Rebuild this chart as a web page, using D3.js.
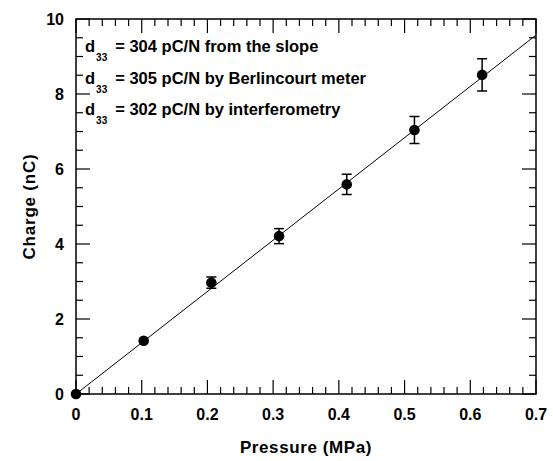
<!DOCTYPE html>
<html>
<head>
<meta charset="utf-8">
<script src="https://cdn.jsdelivr.net/npm/d3@7"></script>
<style>
  body { margin: 0; background: #fff; }
  text { font-family: "Liberation Sans", Arial, sans-serif; font-weight: bold; fill: #000; }
</style>
</head>
<body>
<script>
// measured points
let pressure = [0, 0.103, 0.206, 0.309, 0.412, 0.515, 0.618];
let charge = [0, 1.42, 2.97, 4.21, 5.59, 7.04, 8.51];
let chargeErr = [0, 0.05, 0.15, 0.2, 0.27, 0.36, 0.43];

// linear fit line end points
let fitX = [0, 0.7];
let fitY = [0, 9.57];

let xTicks = [0, 0.1, 0.2, 0.3, 0.4, 0.5, 0.6, 0.7];
let yTicks = [0, 2, 4, 6, 8, 10];

let notes = [
    "304 pC/N from the slope",
    "305 pC/N by Berlincourt meter",
    "302 pC/N by interferometry"
];

let width = 553, height = 461;
let margin = {left: 76, right: 17, top: 19, bottom: 67};

let svg = d3.select("body").append("svg")
    .attr("width", width)
    .attr("height", height);

let x = d3.scaleLinear().domain([0, 0.7]).range([margin.left, width - margin.right]);
let y = d3.scaleLinear().domain([0, 10]).range([height - margin.bottom, margin.top]);

let x0 = x.range()[0], x1 = x.range()[1];
let y0 = y.range()[0], y1 = y.range()[1];

// ticks on all four sides, pointing inward
let xMinor = d3.range(0, 0.7001, 0.02);
let yMinor = d3.range(0, 10.001, 0.5);
let isMajorX = v => Math.abs(v * 10 - Math.round(v * 10)) < 1e-6;
let isMajorY = v => Math.abs(v / 2 - Math.round(v / 2)) < 1e-6;

let tickG = svg.append("g").attr("stroke", "#000").attr("stroke-width", 1.2);

tickG.selectAll(".xb")
    .data(xMinor)
    .join("line")
    .attr("x1", d => x(d)).attr("x2", d => x(d))
    .attr("y1", y0).attr("y2", d => y0 - (isMajorX(d) ? 14 : 7));

tickG.selectAll(".xt")
    .data(xMinor)
    .join("line")
    .attr("x1", d => x(d)).attr("x2", d => x(d))
    .attr("y1", y1).attr("y2", d => y1 + (isMajorX(d) ? 14 : 7));

tickG.selectAll(".yl")
    .data(yMinor)
    .join("line")
    .attr("y1", d => y(d)).attr("y2", d => y(d))
    .attr("x1", x0).attr("x2", d => x0 + (isMajorY(d) ? 14 : 7));

tickG.selectAll(".yr")
    .data(yMinor)
    .join("line")
    .attr("y1", d => y(d)).attr("y2", d => y(d))
    .attr("x1", x1).attr("x2", d => x1 - (isMajorY(d) ? 14 : 7));

svg.append("rect")
    .attr("x", x0).attr("y", y1)
    .attr("width", x1 - x0).attr("height", y0 - y1)
    .attr("fill", "none")
    .attr("stroke", "#000")
    .attr("stroke-width", 1.5);

// tick labels
svg.selectAll(".xl")
    .data(xTicks)
    .join("text")
    .attr("x", d => x(d))
    .attr("y", y0 + 26)
    .attr("text-anchor", "middle")
    .style("font-size", "16px")
    .text(d => d === 0 ? "0" : d3.format(".1f")(d));

svg.selectAll(".ylab")
    .data(yTicks)
    .join("text")
    .attr("x", x0 - 12)
    .attr("y", d => y(d) + 6)
    .attr("text-anchor", "end")
    .style("font-size", "16px")
    .text(d => d);

// axis titles
svg.append("text")
    .attr("x", (x0 + x1) / 2)
    .attr("y", 453)
    .attr("text-anchor", "middle")
    .style("font-size", "17px")
    .style("letter-spacing", "0.6px")
    .text("Pressure (MPa)");

svg.append("text")
    .attr("transform", "translate(35," + (y0 + y1) / 2 + ") rotate(-90)")
    .attr("text-anchor", "middle")
    .style("font-size", "17px")
    .style("letter-spacing", "0.8px")
    .text("Charge (nC)");

// fit line
svg.append("line")
    .attr("x1", x(fitX[0])).attr("y1", y(fitY[0]))
    .attr("x2", x(fitX[1])).attr("y2", y(fitY[1]))
    .attr("stroke", "#000")
    .attr("stroke-width", 1);

let pts = pressure.map((p, i) => ({p: p, c: charge[i], e: chargeErr[i]}));

// error bars
let eb = svg.append("g").attr("stroke", "#000").attr("stroke-width", 1.5);
pts.filter(d => d.e > 0.1).forEach(d => {
    eb.append("line")
        .attr("x1", x(d.p)).attr("x2", x(d.p))
        .attr("y1", y(d.c - d.e)).attr("y2", y(d.c + d.e));
    [d.c - d.e, d.c + d.e].forEach(v => {
        eb.append("line")
            .attr("x1", x(d.p) - 5).attr("x2", x(d.p) + 5)
            .attr("y1", y(v)).attr("y2", y(v));
    });
});

svg.selectAll(".dot")
    .data(pts)
    .join("circle")
    .attr("cx", d => x(d.p))
    .attr("cy", d => y(d.c))
    .attr("r", 5.3)
    .attr("fill", "#000");

// annotation text
let note = svg.selectAll(".note")
    .data(notes)
    .join("text")
    .attr("x", 85)
    .attr("y", (d, i) => 52 + i * 31.5)
    .style("font-size", "16.5px");

note.append("tspan").text("d");
note.append("tspan")
    .attr("dy", 9)
    .attr("dx", 1)
    .style("font-size", "10px")
    .text("33");
note.append("tspan")
    .attr("dy", -9)
    .attr("dx", 8)
    .text(d => "= " + d);
</script>
</body>
</html>
